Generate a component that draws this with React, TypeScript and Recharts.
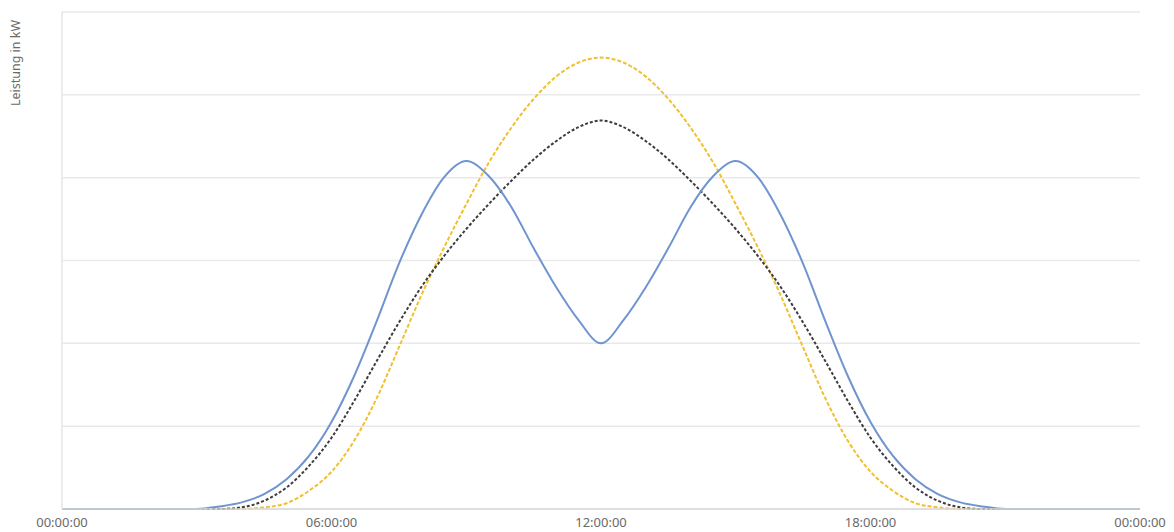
import { LineChart, Line, XAxis, YAxis, CartesianGrid } from 'recharts'

// half-hour steps, 00:00 .. 24:00
const hours = Array.from({ length: 49 }, (_, i) => i / 2)

const blueSeries = [
  0, 0, 0, 0, 0, 0, 0,
  0.03, 0.08, 0.18, 0.36, 0.64, 1.05, 1.6, 2.26, 2.96, 3.55, 4.0,
  4.2, 4.02, 3.65, 3.15, 2.68, 2.28,
  2.0,
  2.28, 2.68, 3.15, 3.65, 4.02, 4.2,
  4.0, 3.55, 2.96, 2.26, 1.6, 1.05, 0.64, 0.36, 0.18, 0.08, 0.03,
  0, 0, 0, 0, 0, 0, 0,
]

const blackSeries = [
  0, 0, 0, 0, 0, 0, 0, 0,
  0.02, 0.1, 0.26, 0.52, 0.86, 1.3, 1.78, 2.25, 2.68, 3.05, 3.38,
  3.68, 3.96, 4.22, 4.44, 4.61,
  4.69,
  4.61, 4.44, 4.22, 3.96, 3.68,
  3.38, 3.05, 2.68, 2.25, 1.78, 1.3, 0.86, 0.52, 0.26, 0.1, 0.02,
  0, 0, 0, 0, 0, 0, 0, 0,
]

const yellowSeries = [
  0, 0, 0, 0, 0, 0, 0, 0, 0,
  0.02, 0.07, 0.22, 0.45, 0.82, 1.33, 1.95, 2.58, 3.15, 3.68,
  4.18, 4.6, 4.95, 5.22, 5.39,
  5.45,
  5.39, 5.22, 4.95, 4.6, 4.18,
  3.68, 3.15, 2.58, 1.95, 1.33, 0.82, 0.45, 0.22, 0.07, 0.02,
  0, 0, 0, 0, 0, 0, 0, 0, 0,
]

const xTicks = [0, 6, 12, 18, 24]
const yTicks = [0, 1, 2, 3, 4, 5, 6]

const data = hours.map((t, i) => ({
  t,
  blue: blueSeries[i],
  black: blackSeries[i],
  yellow: yellowSeries[i],
}))

const fmtTime = (h: number) => String(h % 24).padStart(2, '0') + ':00:00'

const axisFont = { fontFamily: 'Noto Sans', fontSize: 13, fill: '#6a6a6a' }

export default function App() {
  return (
    <div style={{ position: 'absolute', left: 0, top: 0, background: '#fff' }}>
      <LineChart width={1174} height={532} data={data} margin={{ top: 12, right: 34, bottom: 0, left: 0 }}>
        <CartesianGrid vertical={false} stroke="#e9e9e9" strokeWidth={1.5} />
        <XAxis
          dataKey="t"
          type="number"
          domain={[0, 24]}
          ticks={xTicks}
          tickFormatter={fmtTime}
          tickLine={false}
          axisLine={{ stroke: '#d9d9d9', strokeWidth: 1.5 }}
          tick={axisFont}
          tickMargin={3}
          height={23}
          interval={0}
        />
        <YAxis
          domain={[0, 6]}
          ticks={yTicks}
          tick={() => <g />}
          tickLine={false}
          axisLine={{ stroke: '#e6e6e6', strokeWidth: 1.5 }}
          width={62}
          label={{
            content: () => (
              <text
                x={15}
                y={63}
                transform="rotate(-90 15 63)"
                textAnchor="middle"
                dominantBaseline="central"
                style={{ fontFamily: 'Noto Sans', fontSize: 12.5, fill: '#6a6a6a' }}
              >
                Leistung in kW
              </text>
            ),
          }}
        />
        <Line
          type="monotone"
          dataKey="yellow"
          stroke="#f0c030"
          strokeWidth={2}
          strokeDasharray="4 2"
          dot={false}
          isAnimationActive={false}
        />
        <Line
          type="monotone"
          dataKey="black"
          stroke="#3d3d3d"
          strokeWidth={2}
          strokeDasharray="3 2"
          dot={false}
          isAnimationActive={false}
        />
        <Line
          type="monotone"
          dataKey="blue"
          stroke="#7094cf"
          strokeWidth={2}
          dot={false}
          isAnimationActive={false}
        />
      </LineChart>
    </div>
  )
}
